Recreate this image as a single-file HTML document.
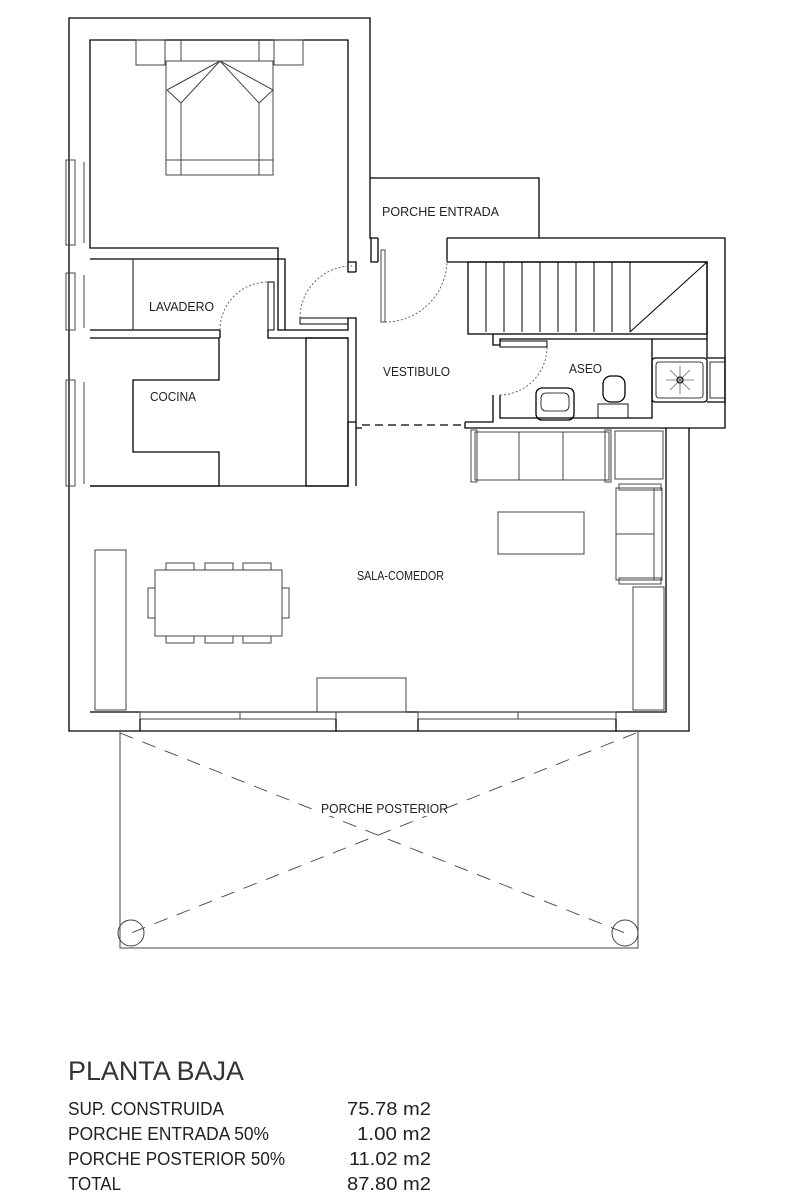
<!DOCTYPE html>
<html><head><meta charset="utf-8"><style>
html,body{margin:0;padding:0;background:#fff;}
svg{display:block;}
text{font-family:"Liberation Sans",sans-serif;fill:#222;}
</style></head><body>
<svg width="785" height="1204" viewBox="0 0 785 1204" xmlns="http://www.w3.org/2000/svg">
<g fill="none" stroke="#000" stroke-width="1.3">
<polyline points="378,238 370,238 370,18 69,18 69,731 689,731 689,428 725,428 725,238 447,238"/>
<polyline points="370,178 539,178 539,238"/>
<polyline points="356,272 356,262 348,262 348,40 90,40 90,248 278,248 278,330 285,330 285,259 90,259"/>
<polyline points="348,262 348,272 356,272"/>
<line x1="378" y1="238" x2="378" y2="262"/><line x1="447" y1="238" x2="447" y2="262"/>
<polyline points="447,262 707,262 707,358"/>
<polyline points="378,262 371,262 371,238"/>
<polyline points="90,330 220,330"/>
<line x1="133" y1="259" x2="133" y2="330" stroke="#444"/>
<polyline points="90,338 219,338 219,380 133,380 133,452 219,452 219,486 90,486"/>
<polyline points="220,330 220,338"/>
<polyline points="268,330 268,338 348,338"/>
<polyline points="285,330 348,330 348,318 356,318 356,422 348,422 348,486 90,486"/>
<line x1="356" y1="428" x2="356" y2="486"/>
<rect x="306" y="338" width="42" height="148"/>
<rect x="300" y="318" width="48" height="6" stroke-width="1"/>
<rect x="268" y="282" width="6" height="48" stroke-width="1"/>
<rect x="468" y="262" width="239" height="72"/>
<g stroke-width="1">
<line x1="486" y1="262" x2="486" y2="332"/><line x1="504" y1="262" x2="504" y2="332"/>
<line x1="522" y1="262" x2="522" y2="332"/><line x1="540" y1="262" x2="540" y2="332"/>
<line x1="558" y1="262" x2="558" y2="332"/><line x1="576" y1="262" x2="576" y2="332"/>
<line x1="594" y1="262" x2="594" y2="332"/><line x1="612" y1="262" x2="612" y2="332"/>
<line x1="630" y1="262" x2="630" y2="332"/><line x1="630" y1="332" x2="707" y2="262"/>
</g>
<polyline points="493,334 493,345 500,345 500,339 707,339"/>
<polyline points="493,395 493,422 465,422"/>
<polyline points="500,395 500,418 652,418 652,339"/>
<rect x="500" y="341" width="47" height="6" stroke-width="1"/>
<rect x="652" y="358" width="55" height="44" rx="3"/>
<rect x="656" y="362" width="47" height="36" rx="3" stroke-width="0.8"/>
<circle cx="680" cy="380" r="3"/>
<polyline points="707,358 725,358 725,402 707,402"/>
<rect x="710" y="362" width="15" height="36" stroke-width="0.8"/>
<rect x="536" y="388" width="38" height="32" rx="6"/>
<rect x="541" y="393" width="28" height="18" rx="5" stroke-width="0.8"/>
<rect x="603" y="376" width="22" height="26" rx="8"/>
<rect x="598" y="404" width="30" height="14" stroke-width="0.9"/>
<polyline points="689,428 666,428 666,712 90,712"/>
<polyline points="465,422 465,428 666,428"/>
<polyline points="356,422 356,428 362,428"/>
<g stroke="#444" stroke-width="1">
<rect x="475" y="432" width="134" height="48"/>
<rect x="471" y="430" width="6" height="52"/><rect x="605" y="430" width="6" height="52"/>
<line x1="519" y1="432" x2="519" y2="480"/><line x1="563" y1="432" x2="563" y2="480"/>
<rect x="615" y="431" width="48" height="48"/>
<rect x="616" y="488" width="46" height="92"/>
<rect x="619" y="484" width="42" height="6"/><rect x="619" y="578" width="42" height="6"/>
<line x1="654" y1="488" x2="654" y2="580"/><line x1="616" y1="534" x2="654" y2="534"/>
<rect x="498" y="512" width="86" height="42"/>
<rect x="633" y="587" width="31" height="123"/>
<rect x="95" y="550" width="31" height="160"/>
<rect x="155" y="570" width="127" height="66"/>
<rect x="166" y="563" width="28" height="7"/><rect x="205" y="563" width="28" height="7"/><rect x="243" y="563" width="28" height="7"/>
<rect x="166" y="636" width="28" height="7"/><rect x="205" y="636" width="28" height="7"/><rect x="243" y="636" width="28" height="7"/>
<rect x="148" y="588" width="7" height="30"/><rect x="282" y="588" width="7" height="30"/>
<rect x="317" y="678" width="89" height="34"/>
<rect x="136" y="40" width="29" height="25"/><rect x="274" y="40" width="29" height="25"/>
<rect x="166" y="61" width="107" height="114"/>
<line x1="166" y1="160" x2="273" y2="160"/>
<line x1="181" y1="103" x2="181" y2="175"/><line x1="259" y1="103" x2="259" y2="175"/>
<polyline points="167,90 220,61 273,90 259,103 220,61 181,103 167,90"/>
<line x1="181" y1="40" x2="181" y2="61"/><line x1="259" y1="40" x2="259" y2="61"/>
<rect x="66" y="160" width="9" height="85"/><rect x="66" y="273" width="9" height="57"/><rect x="66" y="380" width="9" height="106"/>
<line x1="84" y1="162" x2="84" y2="243"/><line x1="84" y1="275" x2="84" y2="328"/><line x1="84" y1="382" x2="84" y2="484"/>
<rect x="381" y="250" width="4" height="72"/>
<rect x="140" y="712" width="196" height="7"/><rect x="418" y="712" width="198" height="7"/>
<line x1="240" y1="712" x2="240" y2="719"/><line x1="518" y1="712" x2="518" y2="719"/>
</g>
<line x1="336" y1="719" x2="336" y2="731"/><line x1="418" y1="719" x2="418" y2="731"/>
<line x1="140" y1="719" x2="140" y2="731"/><line x1="616" y1="719" x2="616" y2="731"/>
<g stroke="#555" stroke-width="0.9" stroke-dasharray="2,2">
<path d="M220,330 A48,48 0 0 1 268,282"/>
<path d="M300,318 A52,52 0 0 1 352,266"/>
<path d="M385,322 A62,62 0 0 0 447,260"/>
<path d="M500,395 A48,48 0 0 0 547,347"/>
</g>
<line x1="362" y1="425" x2="465" y2="425" stroke-dasharray="8,5"/>
<g stroke="#444" stroke-width="1">
<polyline points="120,731 120,948 638,948 638,731"/>
<circle cx="131" cy="933" r="13"/><circle cx="625" cy="933" r="13"/>
</g>
<g stroke="#444" stroke-width="0.9" stroke-dasharray="14,10">
<line x1="120" y1="733" x2="625" y2="933"/><line x1="636" y1="733" x2="131" y2="933"/>
</g>
</g>
<g stroke="#666" stroke-width="0.8" fill="none">
<line x1="680" y1="366" x2="680" y2="394"/><line x1="666" y1="380" x2="694" y2="380"/>
<line x1="670" y1="370" x2="690" y2="390"/><line x1="690" y1="370" x2="670" y2="390"/>
</g>
<rect x="320" y="800" width="124" height="16" fill="#fff"/>
<g font-size="12.5">
<text x="382" y="216" textLength="117" lengthAdjust="spacingAndGlyphs">PORCHE ENTRADA</text>
<text x="149" y="311" textLength="65" lengthAdjust="spacingAndGlyphs">LAVADERO</text>
<text x="150" y="401" textLength="46" lengthAdjust="spacingAndGlyphs">COCINA</text>
<text x="383" y="376" textLength="67" lengthAdjust="spacingAndGlyphs">VESTIBULO</text>
<text x="569" y="373" textLength="33" lengthAdjust="spacingAndGlyphs">ASEO</text>
<text x="357" y="580" textLength="87" lengthAdjust="spacingAndGlyphs">SALA-COMEDOR</text>
<text x="321" y="813" textLength="127" lengthAdjust="spacingAndGlyphs">PORCHE POSTERIOR</text>
</g>
<text x="68" y="1080" font-size="27" textLength="176" lengthAdjust="spacingAndGlyphs" style="fill:#333">PLANTA BAJA</text>
<g font-size="18" style="fill:#333">
<text x="68" y="1115" textLength="156" lengthAdjust="spacingAndGlyphs">SUP. CONSTRUIDA</text>
<text x="68" y="1140" textLength="201" lengthAdjust="spacingAndGlyphs">PORCHE ENTRADA 50%</text>
<text x="68" y="1165" textLength="217" lengthAdjust="spacingAndGlyphs">PORCHE POSTERIOR 50%</text>
<text x="68" y="1190" textLength="53" lengthAdjust="spacingAndGlyphs">TOTAL</text>
<text x="431" y="1115" text-anchor="end" textLength="84" lengthAdjust="spacingAndGlyphs">75.78 m2</text>
<text x="431" y="1140" text-anchor="end" textLength="74" lengthAdjust="spacingAndGlyphs">1.00 m2</text>
<text x="431" y="1165" text-anchor="end" textLength="82" lengthAdjust="spacingAndGlyphs">11.02 m2</text>
<text x="431" y="1190" text-anchor="end" textLength="84" lengthAdjust="spacingAndGlyphs">87.80 m2</text>
</g>
</svg>
</body></html>
